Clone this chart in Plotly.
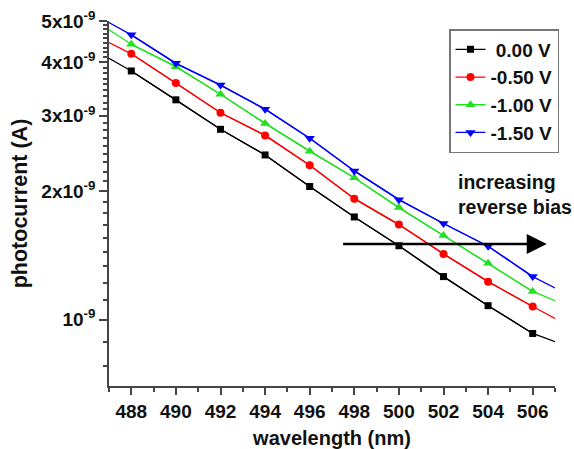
import math
import plotly.graph_objects as go

# ---- data ----
WAVELENGTH = [488, 490, 492, 494, 496, 498, 500, 502, 504, 506]
EDGE_WL = [487, 507]

LABELS = ["\u00a00.00 V", "-0.50 V", "-1.00 V", "-1.50 V"]

I_0V = [3.82e-9, 3.27e-9, 2.79e-9, 2.43e-9, 2.05e-9, 1.74e-9, 1.49e-9, 1.262e-9, 1.079e-9, 0.929e-9]
I_0V_EDGE = [4.09e-9, 0.889e-9]

I_050V = [4.19e-9, 3.58e-9, 3.05e-9, 2.70e-9, 2.30e-9, 1.92e-9, 1.67e-9, 1.426e-9, 1.228e-9, 1.074e-9]
I_050V_EDGE = [4.45e-9, 1.007e-9]

I_100V = [4.41e-9, 3.91e-9, 3.37e-9, 2.88e-9, 2.48e-9, 2.15e-9, 1.83e-9, 1.575e-9, 1.356e-9, 1.165e-9]
I_100V_EDGE = [4.77e-9, 1.108e-9]

I_150V = [4.64e-9, 3.98e-9, 3.54e-9, 3.11e-9, 2.66e-9, 2.23e-9, 1.91e-9, 1.68e-9, 1.486e-9, 1.262e-9]
I_150V_EDGE = [4.96e-9, 1.187e-9]

X_TICKS = [488, 490, 492, 494, 496, 498, 500, 502, 504, 506]
X_MINOR = [487, 489, 491, 493, 495, 497, 499, 501, 503, 505, 507]
Y_TICKS = [1e-9, 2e-9, 3e-9, 4e-9, 5e-9]
Y_TICKTEXT = ["10<sup>-9</sup>", "2x10<sup>-9</sup>", "3x10<sup>-9</sup>",
              "4x10<sup>-9</sup>", "5x10<sup>-9</sup>"]
Y_MINOR = [1e-9 - k / 9 * 1e-9 for k in (1, 2)] + \
          [(a + k / 9) * 1e-9 for a in (1, 2, 3, 4) for k in range(1, 9)]

SERIES = [
    (LABELS[0], I_0V, I_0V_EDGE, "#000000", "square", 7),
    (LABELS[1], I_050V, I_050V_EDGE, "#ff0000", "circle", 8),
    (LABELS[2], I_100V, I_100V_EDGE, "#22e022", "triangle-up", 9),
    (LABELS[3], I_150V, I_150V_EDGE, "#0000ff", "triangle-down", 9),
]

FONT = "Liberation Sans, Arial, sans-serif"
TXT = "#111111"
AX = "#444444"

fig = go.Figure()
for i, (name, vals, edge, color, sym, size) in enumerate(SERIES):
    fig.add_trace(go.Scatter(
        x=[EDGE_WL[0]] + WAVELENGTH + [EDGE_WL[1]],
        y=[edge[0]] + vals + [edge[1]],
        mode="lines", line=dict(color=color, width=1.3),
        showlegend=False, hoverinfo="skip"))
    fig.add_trace(go.Scatter(
        x=WAVELENGTH, y=vals, name=name, mode="lines+markers",
        line=dict(color=color, width=1.3),
        marker=dict(symbol=sym, size=size, color=color)))

# arrow "increasing reverse bias"
fig.add_annotation(
    x=506.63, y=math.log10(1.505e-9), ax=497.43, ay=math.log10(1.505e-9),
    xref="x", yref="y", axref="x", ayref="y", text="",
    showarrow=True, arrowhead=2, arrowsize=1.6, arrowwidth=2.5, arrowcolor="#000000")

fig.add_annotation(
    x=(456 - 109) / 446, y=(386 - 194.5) / 365, xref="paper", yref="paper",
    text="<b>increasing<br>reverse bias</b>",
    showarrow=False, xanchor="left", yanchor="middle", align="left",
    font=dict(family=FONT, size=19.5, color=TXT))

fig.update_layout(
    width=574, height=449,
    margin=dict(l=109, r=19, t=21, b=63),
    paper_bgcolor="white", plot_bgcolor="white",
    font=dict(family=FONT, color=TXT),
    showlegend=True,
    legend=dict(x=(449 - 109) / 446, y=(386 - 29) / 365, xanchor="left", yanchor="top",
                bordercolor="#777777", borderwidth=1.5, bgcolor="white",
                font=dict(family=FONT, size=19, color=TXT, weight="bold"),
                tracegroupgap=0, itemwidth=30),
    xaxis=dict(range=[487, 507], tickmode="array", tickvals=X_TICKS,
               automargin=False,
               ticks="outside", ticklen=7, tickwidth=1.5, tickcolor=AX,
               showline=True, linecolor=AX, linewidth=1.5,
               showgrid=False, zeroline=False,
               tickfont=dict(family=FONT, size=19, color=TXT, weight="bold"),
               minor=dict(tickmode="array", tickvals=X_MINOR, ticks="outside",
                          ticklen=4, tickwidth=1.5, tickcolor=AX, showgrid=False),
               title=dict(text="<b>wavelength (nm)</b>", standoff=13,
                          font=dict(family=FONT, size=20, color=TXT))),
    yaxis=dict(type="log", range=[math.log10(7e-10), math.log10(5e-9)],
               automargin=False,
               tickmode="array", tickvals=Y_TICKS, ticktext=Y_TICKTEXT,
               ticks="outside", ticklen=8, tickwidth=1.5, tickcolor=AX,
               showline=True, linecolor=AX, linewidth=1.5,
               showgrid=False, zeroline=False,
               tickfont=dict(family=FONT, size=19, color=TXT, weight="bold"),
               minor=dict(tickmode="array", tickvals=Y_MINOR, ticks="outside",
                          ticklen=4, tickwidth=1.5, tickcolor=AX, showgrid=False),
               title=dict(text="<b>photocurrent (A)</b>", standoff=8,
                          font=dict(family=FONT, size=21.5, color=TXT))),
)

fig.write_html("out.html", config={"displayModeBar": False},
               post_script="document.body.style.margin='0px';")
